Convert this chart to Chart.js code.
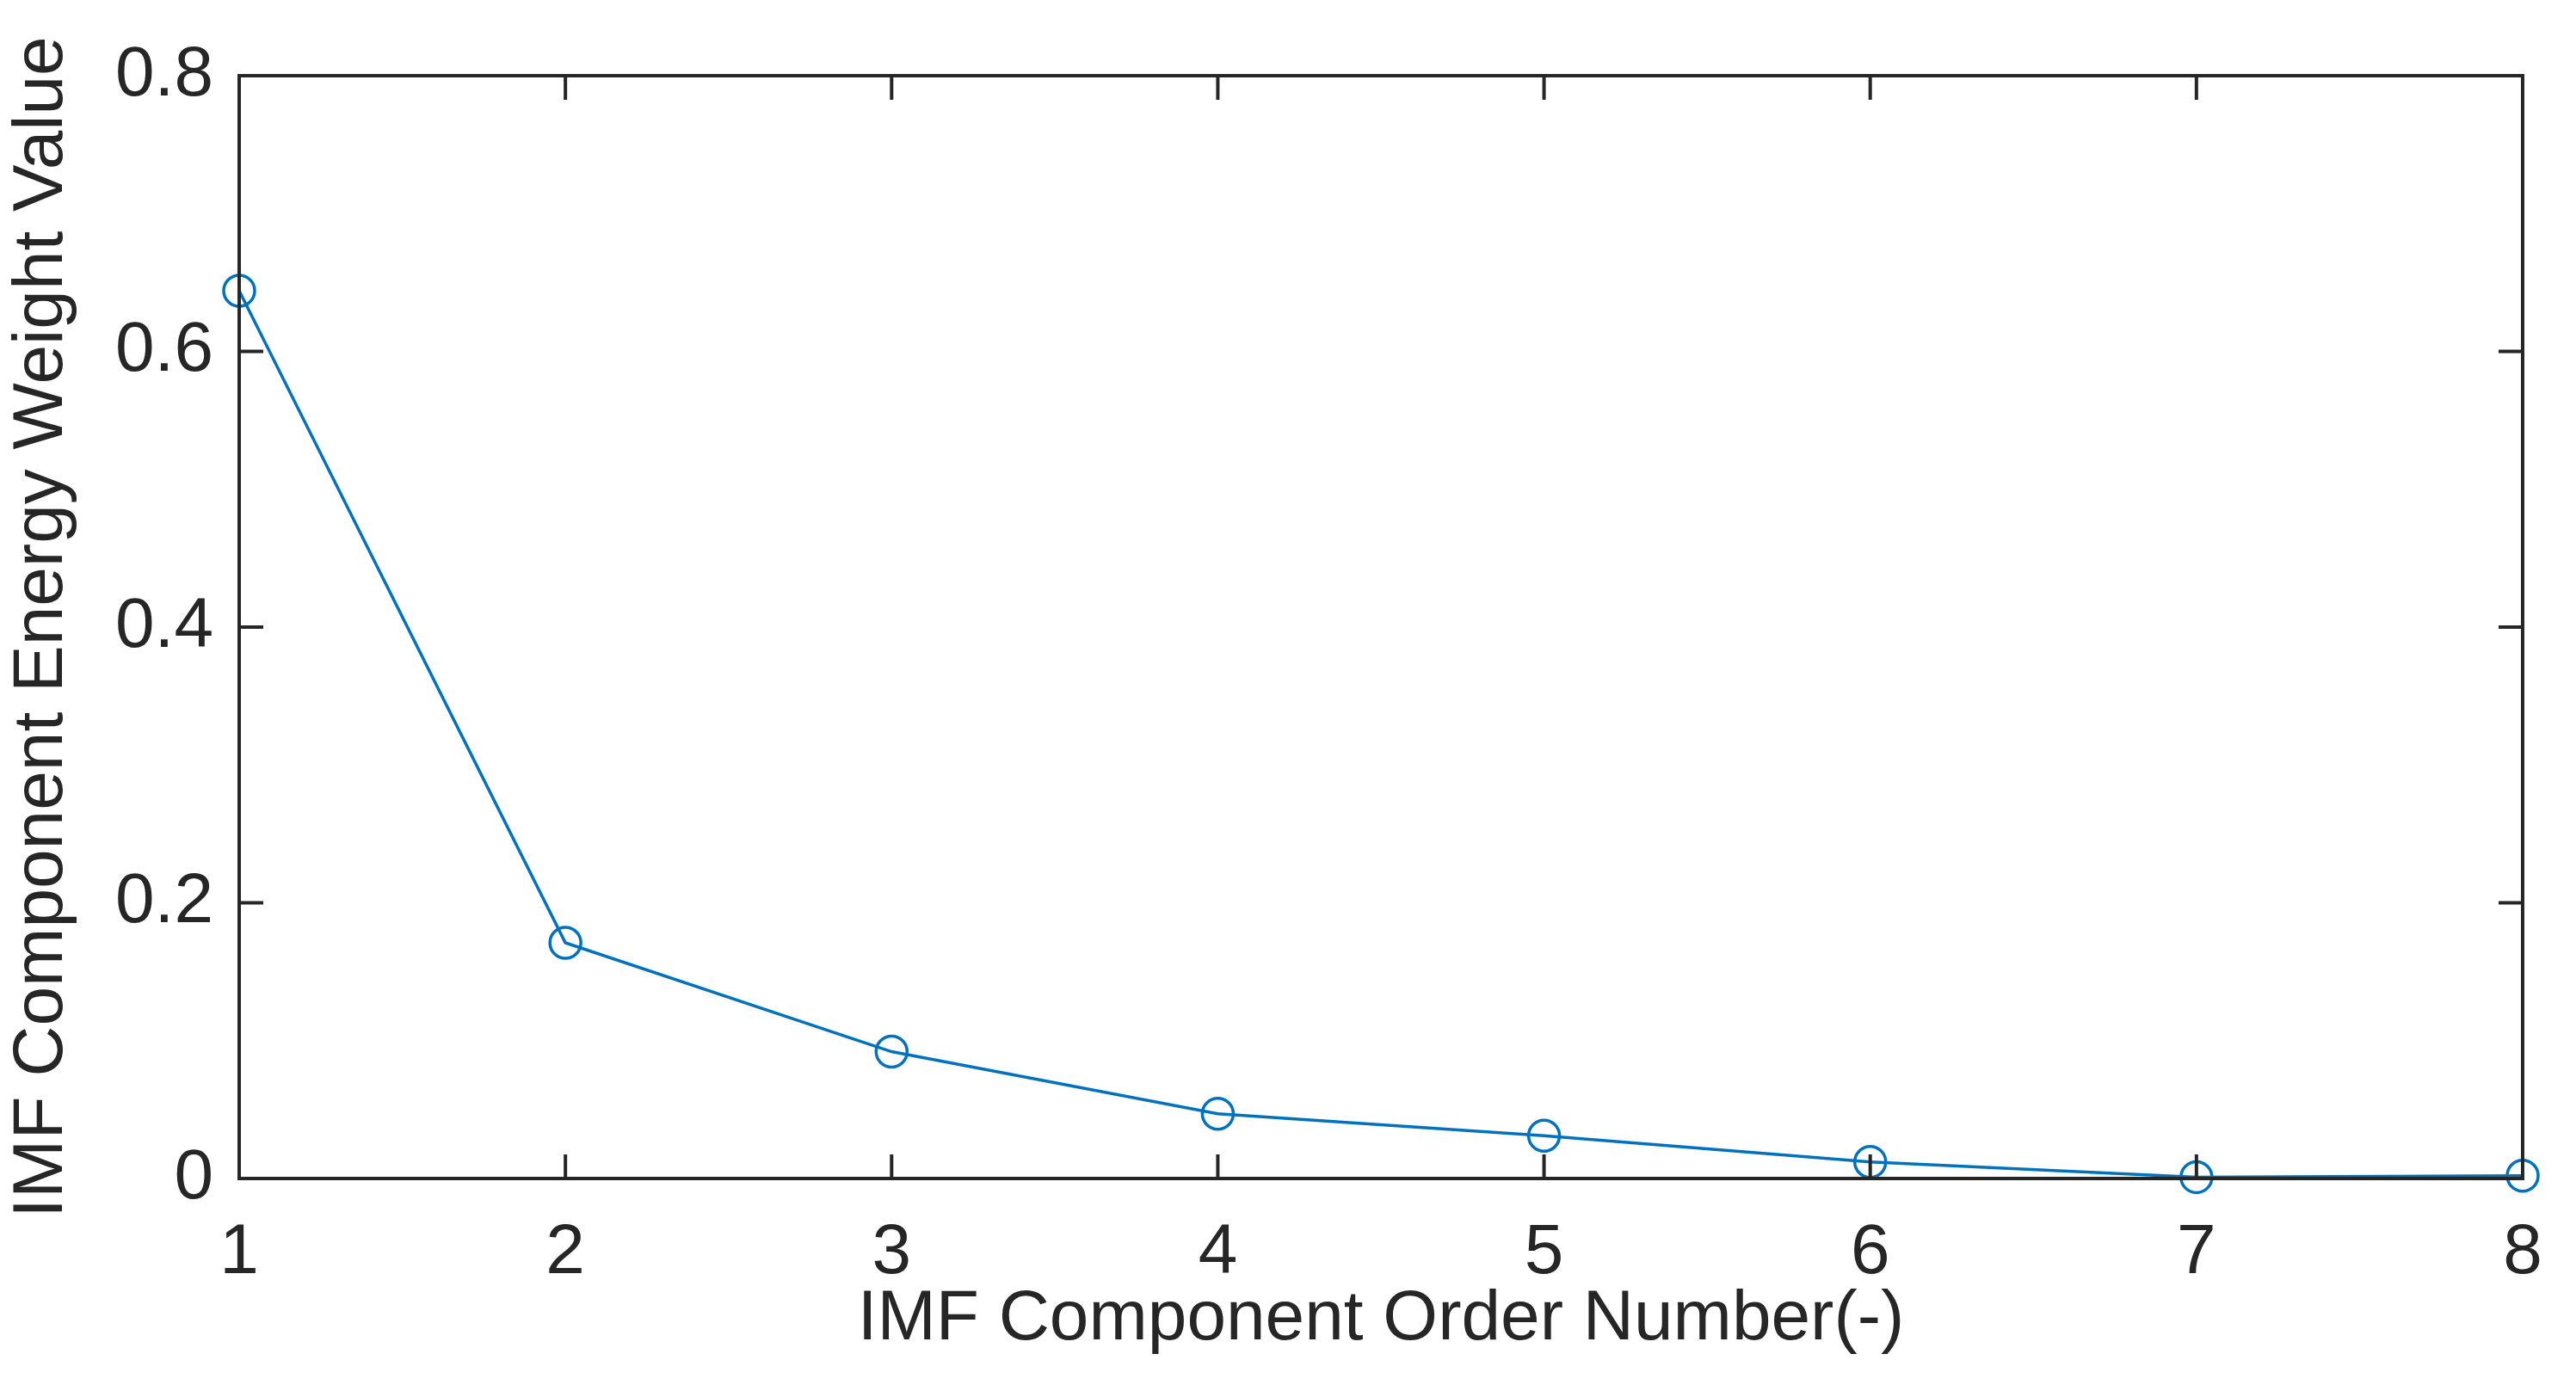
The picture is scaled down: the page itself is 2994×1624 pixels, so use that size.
<!DOCTYPE html>
<html>
<head>
<meta charset="utf-8">
<script src="https://cdn.jsdelivr.net/npm/chart.js@4"></script>
<style>
  html, body { margin: 0; padding: 0; background: #fff; }
  #wrap { width: 2994px; height: 1624px; }
</style>
</head>
<body>
<div id="wrap"><canvas id="chart"></canvas></div>
<script>
var orderNumbers = [1, 2, 3, 4, 5, 6, 7, 8];
var energyWeights = [0.644, 0.171, 0.092, 0.047, 0.031, 0.012, 0.001, 0.002];
var xTicks = [1, 2, 3, 4, 5, 6, 7, 8];
var yTicks = [0, 0.2, 0.4, 0.6, 0.8];

var axisColor = '#262626';
var tickFont = { family: 'Liberation Sans, Arial', size: 82 };

// box around the plot plus inward ticks on all four sides, like MATLAB
var boxPlugin = {
    id: 'boxTicks',
    afterDraw: function (chart) {
        var ctx = chart.ctx;
        var a = chart.chartArea;
        var xs = chart.scales.x, ys = chart.scales.y;
        var len = 28;
        ctx.save();
        ctx.strokeStyle = axisColor;
        ctx.lineWidth = 4;
        ctx.strokeRect(a.left, a.top, a.right - a.left, a.bottom - a.top);
        ctx.beginPath();
        xTicks.forEach(function (t) {
            var px = xs.getPixelForValue(t);
            ctx.moveTo(px, a.bottom); ctx.lineTo(px, a.bottom - len);
            ctx.moveTo(px, a.top); ctx.lineTo(px, a.top + len);
        });
        yTicks.forEach(function (t) {
            var py = ys.getPixelForValue(t);
            ctx.moveTo(a.left, py); ctx.lineTo(a.left + len, py);
            ctx.moveTo(a.right, py); ctx.lineTo(a.right - len, py);
        });
        ctx.stroke();
        ctx.restore();
    }
};

new Chart(document.getElementById('chart'), {
    type: 'line',
    data: {
        datasets: [{
            data: orderNumbers.map(function (x, i) { return { x: x, y: energyWeights[i] }; }),
            borderColor: '#0072BD',
            borderWidth: 3.5,
            pointStyle: 'circle',
            pointRadius: 18,
            pointBorderWidth: 3.5,
            pointBackgroundColor: 'rgba(0,0,0,0)',
            pointBorderColor: '#0072BD',
            tension: 0,
            clip: false
        }]
    },
    options: {
        responsive: true,
        maintainAspectRatio: false,
        animation: false,
        layout: { padding: { top: 88, right: 62, left: 0, bottom: 36 } },
        plugins: { legend: { display: false }, tooltip: { enabled: false } },
        scales: {
            x: {
                type: 'linear', min: 1, max: 8,
                afterBuildTicks: function (s) { s.ticks = xTicks.map(function (v) { return { value: v }; }); },
                afterFit: function (s) { s.height = 1624 - 36 - 1370; },
                grid: { display: false },
                border: { display: false },
                ticks: { color: axisColor, font: tickFont, padding: 30 },
                title: { display: true, text: 'IMF Component Order Number(-)', color: axisColor,
                         font: tickFont, padding: { top: 0 } }
            },
            y: {
                type: 'linear', min: 0, max: 0.8,
                afterBuildTicks: function (s) { s.ticks = yTicks.map(function (v) { return { value: v }; }); },
                afterFit: function (s) { s.width = 278; },
                grid: { display: false },
                border: { display: false },
                ticks: { color: axisColor, font: tickFont, padding: 22 },
                title: { display: true, text: 'IMF Component Energy Weight Value', color: axisColor,
                         font: tickFont, padding: { top: 0, bottom: 0 } }
            }
        }
    },
    plugins: [boxPlugin]
});
</script>
</body>
</html>
